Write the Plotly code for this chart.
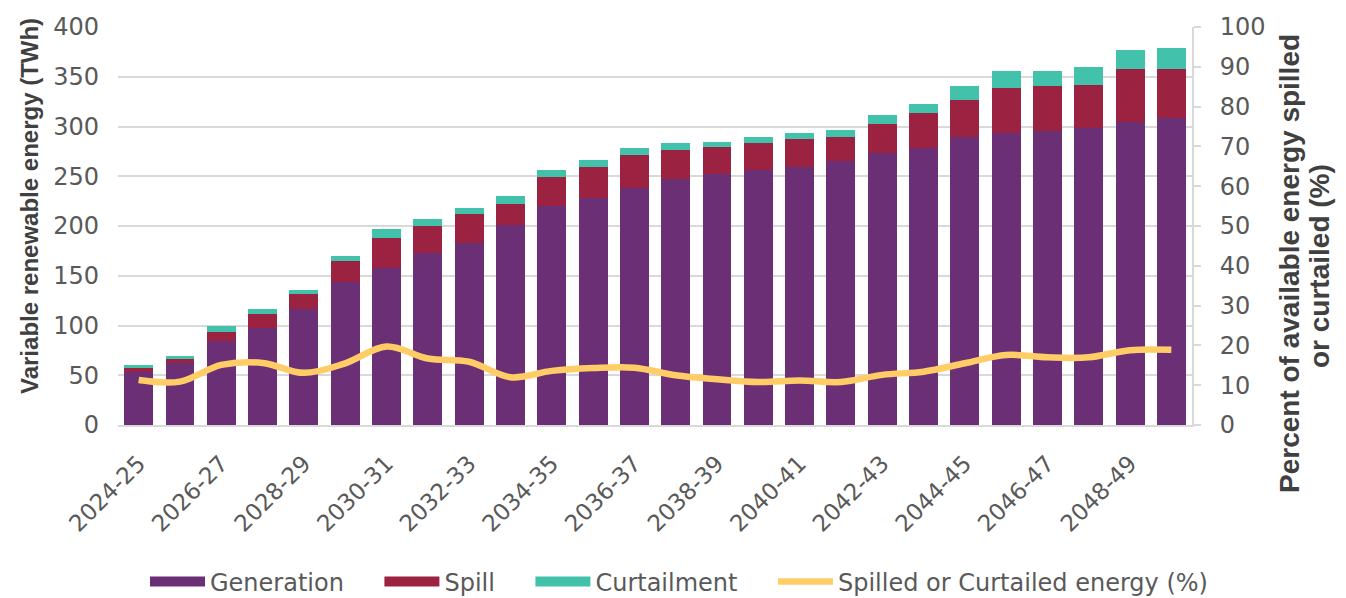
import plotly.graph_objects as go

categories = [f"{y}-{str(y+1)[-2:]}" for y in range(2024, 2050)]
generation = [53, 62, 84.6, 97.7, 117, 144, 158, 172.4, 183, 201,
              220.6, 228.2, 238.6, 247.7, 252.7, 256.7, 259.7, 265.4, 273, 278.8,
              289.5, 293.9, 295.5, 298.5, 304.5, 308.9]
spill = [4.5, 4.4, 9.1, 13.7, 15, 21, 30, 27.4, 29, 21.4,
         28.4, 31, 32.8, 28.4, 26.4, 26.7, 28, 24, 30, 34.8,
         37.5, 45.1, 44.9, 43.6, 53.6, 49.2]
curtailment = [2.5, 3, 6, 4.8, 3.3, 5, 9, 7.7, 6, 7.4,
               7.7, 7.4, 7.4, 7.3, 5.7, 6.1, 6, 7.4, 9, 9,
               13.4, 16.4, 15, 18, 18.4, 21.1]
pct_spilled_curtailed = [11.3, 10.9, 15.1, 15.6, 13.1, 15.5, 19.7, 16.7, 15.9, 12.0,
                         13.6, 14.3, 14.4, 12.5, 11.5, 10.8, 11.2, 10.8, 12.6, 13.4,
                         15.5, 17.6, 17.0, 17.0, 18.8, 18.9]
tick_labels = categories[::2]
left_title = "Variable renewable energy (TWh)"
right_title_1 = "Percent of available energy spilled"
right_title_2 = "or curtailed (%)"
NB = "\u00a0" * 4

FONT = "DejaVu Sans, sans-serif"
TITLE_FONT = "Liberation Sans, Arial, sans-serif"
GRID = "#D9D9D9"
TXT = "#595959"
TTXT = "#404040"
C_GEN, C_SPILL, C_CURT, C_LINE = "#6B2F76", "#9C2242", "#42C2AB", "#FFCC66"

# page body offset (default 8px margin) compensation
OFF = 8
W, H = 1346, 598
PL, PR, PT, PB = 118 - OFF, 1192 - OFF, 27 - OFF, 425 - OFF
PW, PH = PR - PL, PB - PT


def px(xw):
    return (xw - OFF - PL) / PW


def py(yw):
    return (PB - (yw - OFF)) / PH


fig = go.Figure()
for name, vals, col, grp in [("Generation", generation, C_GEN, "gen"),
                             ("Spill", spill, C_SPILL, "spill"),
                             ("Curtailment", curtailment, C_CURT, "curt")]:
    fig.add_bar(x=categories, y=vals, name=name, marker_color=col,
                marker_line_width=0, showlegend=False, legendgroup=grp)
# legend-only proxies so the legend shows wide rectangular keys
for name, col, grp in [("Generation", C_GEN, "gen"),
                       ("Spill", C_SPILL, "spill"),
                       ("Curtailment", C_CURT, "curt")]:
    fig.add_scatter(x=[None], y=[None], mode="lines", name=name + NB,
                    line=dict(color=col, width=13), legendgroup=grp,
                    hoverinfo="skip")
fig.add_scatter(x=categories, y=pct_spilled_curtailed, name="Spilled or Curtailed energy (%)",
                yaxis="y2", mode="lines", line=dict(color=C_LINE, width=6.5, shape="spline"))

fig.update_layout(
    barmode="stack",
    bargap=0.3,
    width=W, height=H,
    margin=dict(l=PL, r=W - PR, t=PT, b=H - PB, autoexpand=False),
    plot_bgcolor="white", paper_bgcolor="white",
    font=dict(family=FONT, size=24, color=TXT),
    xaxis=dict(
        type="category", automargin=False,
        tickmode="array", tickvals=tick_labels, ticktext=tick_labels,
        tickangle=-45, tickfont=dict(size=23, color=TXT),
        ticklabelstandoff=14,
        showline=True, linecolor=GRID, linewidth=2,
        showgrid=False, ticks="",
    ),
    yaxis=dict(
        range=[0, 400], dtick=50, showgrid=True, gridcolor=GRID, gridwidth=1.5,
        zeroline=False, showline=False, ticks="", automargin=False,
        tickfont=dict(size=24, color=TXT), ticklabelstandoff=18,
    ),
    yaxis2=dict(
        overlaying="y", side="right", range=[0, 100], dtick=10, automargin=False,
        showgrid=False, zeroline=False,
        showline=True, linecolor=GRID, linewidth=2,
        ticks="outside", ticklen=7, tickcolor=GRID, tickwidth=1.5,
        tickfont=dict(size=24, color=TXT), ticklabelstandoff=14,
    ),
    legend=dict(orientation="h", x=px(679), xanchor="center", y=py(582), yanchor="middle",
                font=dict(size=24, color=TXT), traceorder="normal", itemwidth=55),
    showlegend=True,
    annotations=[
        dict(text=f"<b>{left_title}</b>", textangle=-90, xref="paper", yref="paper",
             x=px(29), y=py(206), xanchor="center", yanchor="middle",
             showarrow=False, font=dict(family=TITLE_FONT, size=24, color=TTXT)),
        dict(text=f"<b>{right_title_1}</b>", textangle=-90, xref="paper", yref="paper",
             x=px(1289), y=py(264), xanchor="center", yanchor="middle",
             showarrow=False, font=dict(family=TITLE_FONT, size=28, color=TTXT)),
        dict(text=f"<b>{right_title_2}</b>", textangle=-90, xref="paper", yref="paper",
             x=px(1319), y=py(266), xanchor="center", yanchor="middle",
             showarrow=False, font=dict(family=TITLE_FONT, size=28, color=TTXT)),
    ],
)

fig.write_html("out.html")
